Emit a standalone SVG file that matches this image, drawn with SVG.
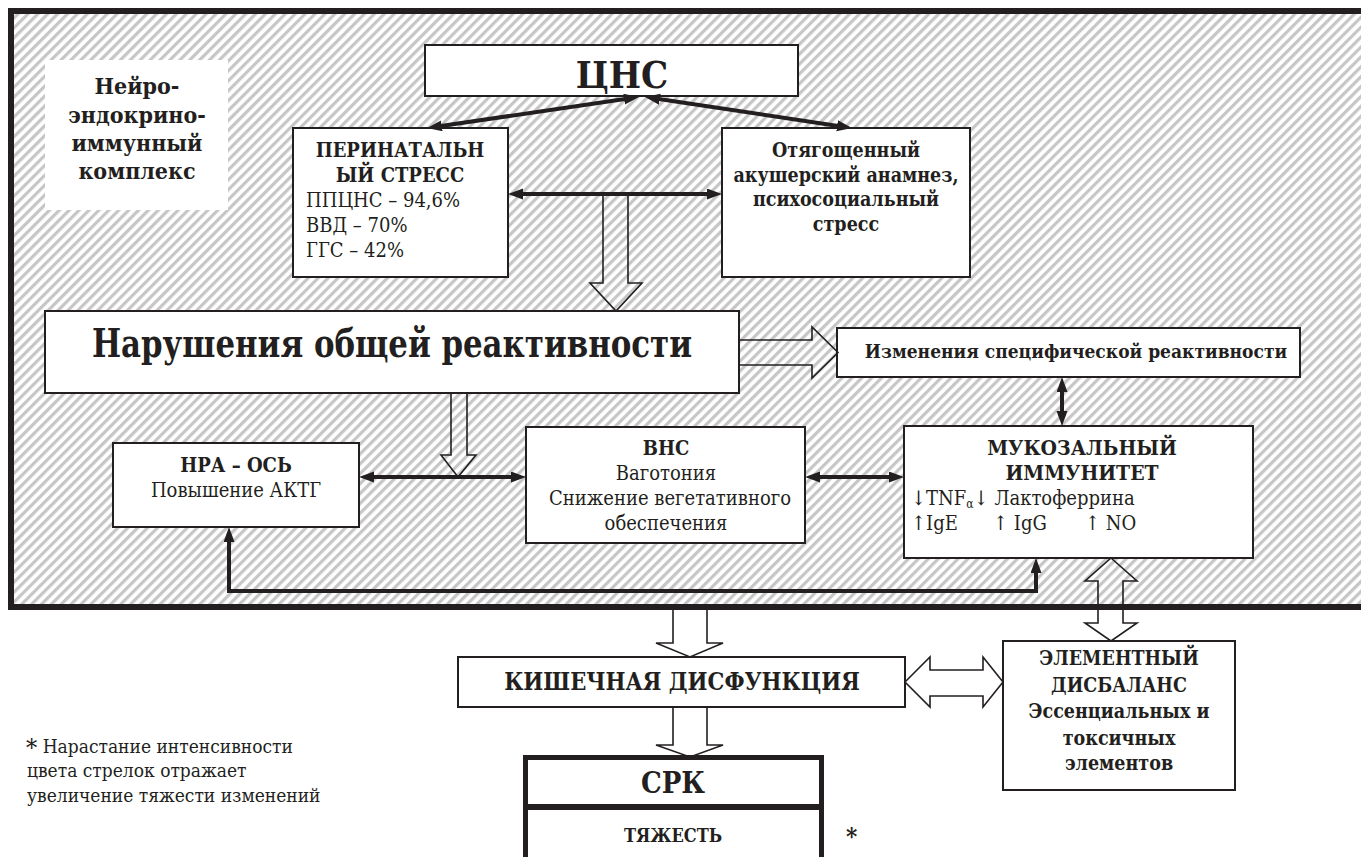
<svg xmlns="http://www.w3.org/2000/svg" width="1361" height="857" viewBox="0 0 1361 857">
<defs>
<pattern id="hatch" patternUnits="userSpaceOnUse" width="7" height="7" patternTransform="rotate(45)">
<rect x="0" y="0" width="7" height="7" fill="#ffffff"/>
<rect x="0" y="0" width="3.2" height="7" fill="#c6c6c6"/>
</pattern>
<marker id="ah" markerUnits="userSpaceOnUse" markerWidth="16" markerHeight="12" refX="6" refY="5.5" orient="auto-start-reverse">
<path d="M0,0 L15,5.5 L0,11 z" fill="#231f20"/>
</marker>
</defs>
<style>
.box{fill:#fff;stroke:#231f20;stroke-width:2}
.t{font-family:"DejaVu Serif Condensed","DejaVu Serif","Liberation Serif",serif;font-stretch:condensed;fill:#231f20}
.b{font-weight:bold}
.c{text-anchor:middle}
.ln{stroke:#231f20;stroke-width:4;fill:none;marker-start:url(#ah);marker-end:url(#ah)}
.hol{fill:none;stroke:#231f20;stroke-width:1.6;stroke-linejoin:miter}
</style>
<rect x="0" y="0" width="1361" height="857" fill="#ffffff"/>
<g id="frame">
<rect x="11" y="11" width="1380" height="596" fill="url(#hatch)" stroke="#231f20" stroke-width="6"/>
</g>
<g id="n-neuro">
<rect x="45" y="60" width="183" height="150" fill="#ffffff"/>
<text class="t b c" font-size="23" x="137" y="94">Нейро-</text>
<text class="t b c" font-size="23" x="137" y="123">эндокрино-</text>
<text class="t b c" font-size="23" x="137" y="151">иммунный</text>
<text class="t b c" font-size="23" x="137" y="179">комплекс</text>
</g>
<g id="n-cns">
<rect class="box" x="425" y="45" width="373" height="51"/>
<text class="t b c" font-size="38" x="622" y="88">ЦНС</text>
</g>
<g id="n-perinatal">
<rect class="box" x="293" y="128" width="215" height="149"/>
<text class="t b c" font-size="20" x="400" y="157">ПЕРИНАТАЛЬН</text>
<text class="t b c" font-size="20" x="400" y="182">ЫЙ СТРЕСС</text>
<text class="t" font-size="20" x="306" y="207">ППЦНС – 94,6%</text>
<text class="t" font-size="20" x="306" y="232">ВВД – 70%</text>
<text class="t" font-size="20" x="306" y="257">ГГС – 42%</text>
</g>
<g id="n-anamnesis">
<rect class="box" x="722" y="128" width="248" height="149"/>
<text class="t b c" font-size="19.5" x="846" y="157">Отягощенный</text>
<text class="t b c" font-size="19.5" x="846" y="182">акушерский анамнез,</text>
<text class="t b c" font-size="19.5" x="846" y="206">психосоциальный</text>
<text class="t b c" font-size="19.5" x="846" y="231">стресс</text>
</g>
<g id="n-general">
<rect class="box" x="45" y="311" width="694" height="82"/>
<text class="t b c" font-size="40" x="392" y="357" textLength="600" lengthAdjust="spacingAndGlyphs">Нарушения общей реактивности</text>
</g>
<g id="n-specific">
<rect class="box" x="837" y="328" width="463" height="49"/>
<text class="t b c" font-size="19" x="1076" y="358">Изменения специфической реактивности</text>
</g>
<g id="n-hpa">
<rect class="box" x="113" y="443" width="246" height="84"/>
<text class="t b c" font-size="20" x="236" y="472">НРА – ОСЬ</text>
<text class="t c" font-size="20" x="236" y="497">Повышение АКТГ</text>
</g>
<g id="n-ans">
<rect class="box" x="526" y="427" width="279" height="116"/>
<text class="t b c" font-size="20" x="666" y="455">ВНС</text>
<text class="t c" font-size="20" x="666" y="480">Ваготония</text>
<text class="t c" font-size="20" x="670" y="505">Снижение вегетативного</text>
<text class="t c" font-size="20" x="666" y="530">обеспечения</text>
</g>
<g id="n-mucosal">
<rect class="box" x="904" y="426" width="349" height="132"/>
<text class="t b c" font-size="21" x="1082" y="455">МУКОЗАЛЬНЫЙ</text>
<text class="t b c" font-size="21" x="1082" y="480">ИММУНИТЕТ</text>
<text class="t" font-size="20" x="911" y="505">↓TNF<tspan font-size="12" dy="3">α</tspan><tspan dy="-3">↓ Лактоферрина</tspan></text>
<text class="t" font-size="20" x="911" y="530">↑IgE</text>
<text class="t" font-size="20" x="993" y="530">↑ IgG</text>
<text class="t" font-size="20" x="1085" y="530">↑ NO</text>
</g>
<g id="n-intestinal">
<rect class="box" x="458" y="657" width="447" height="50"/>
<text class="t b c" font-size="23.5" x="682" y="690">КИШЕЧНАЯ ДИСФУНКЦИЯ</text>
</g>
<g id="n-element">
<rect class="box" x="1003" y="641" width="232" height="149"/>
<text class="t b c" font-size="19.5" x="1119" y="665">ЭЛЕМЕНТНЫЙ</text>
<text class="t b c" font-size="19.5" x="1119" y="692">ДИСБАЛАНС</text>
<text class="t b c" font-size="19.5" x="1119" y="718">Эссенциальных и</text>
<text class="t b c" font-size="19.5" x="1119" y="745">токсичных</text>
<text class="t b c" font-size="19.5" x="1119" y="770">элементов</text>
</g>
<g id="n-ibs">
<rect x="525.5" y="757.5" width="296" height="120" fill="#ffffff" stroke="#231f20" stroke-width="5"/>
<line x1="525.5" y1="807" x2="821.5" y2="807" stroke="#231f20" stroke-width="6"/>
<text class="t b c" font-size="29" x="673" y="793">СРК</text>
<text class="t b c" font-size="18" x="673" y="842">ТЯЖЕСТЬ</text>
<text class="t b" font-size="24" x="846" y="845">*</text>
</g>
<g id="legend">
<text class="t" font-size="19" x="26" y="753" fill="#333333"><tspan font-size="25" dy="3">*</tspan><tspan dy="-3"> Нарастание интенсивности</tspan></text>
<text class="t" font-size="19" x="27" y="777" fill="#333333">цвета стрелок отражает</text>
<text class="t" font-size="19" x="27" y="802" fill="#333333">увеличение тяжести изменений</text>
</g>
<g id="connectors">
<line class="ln" x1="630.1" y1="98.3" x2="435.9" y2="126.7"/>
<line class="ln" x1="653.9" y1="98.3" x2="843.1" y2="126.7"/>
<line class="ln" x1="517" y1="194" x2="713" y2="194"/>
<line class="ln" x1="368" y1="477" x2="517" y2="477"/>
<line class="ln" x1="814" y1="477" x2="895" y2="477"/>
<line class="ln" x1="1062" y1="386" x2="1062" y2="417"/>
<path class="ln" stroke-width="5" d="M1036,567 V591 H229 V536"/>
<path class="hol" d="M603,196 V283 H590 L616,311 L642,283 H628 V196"/>
<path class="hol" d="M739,340 H812 V327 L838,352.5 L812,378 V365 H739"/>
<path class="hol" d="M451,393 V455 H441 L458,477 L476,455 H467 V393"/>
<path class="hol" d="M673,610 V643 H656 L690,657 L723,643 H707 V610"/>
<path class="hol" d="M673,707 V745 H656 L690,757 L723,745 H707 V707"/>
<path class="hol" d="M905,682 L930,657 V670 H983 V657 L1003,682 L983,707 V696 H930 V707 Z"/>
<path class="hol" d="M1111,558 L1137,581 H1123 V623 H1137 L1111,641 L1085,623 H1098 V581 H1085 Z"/>
</g>
</svg>
